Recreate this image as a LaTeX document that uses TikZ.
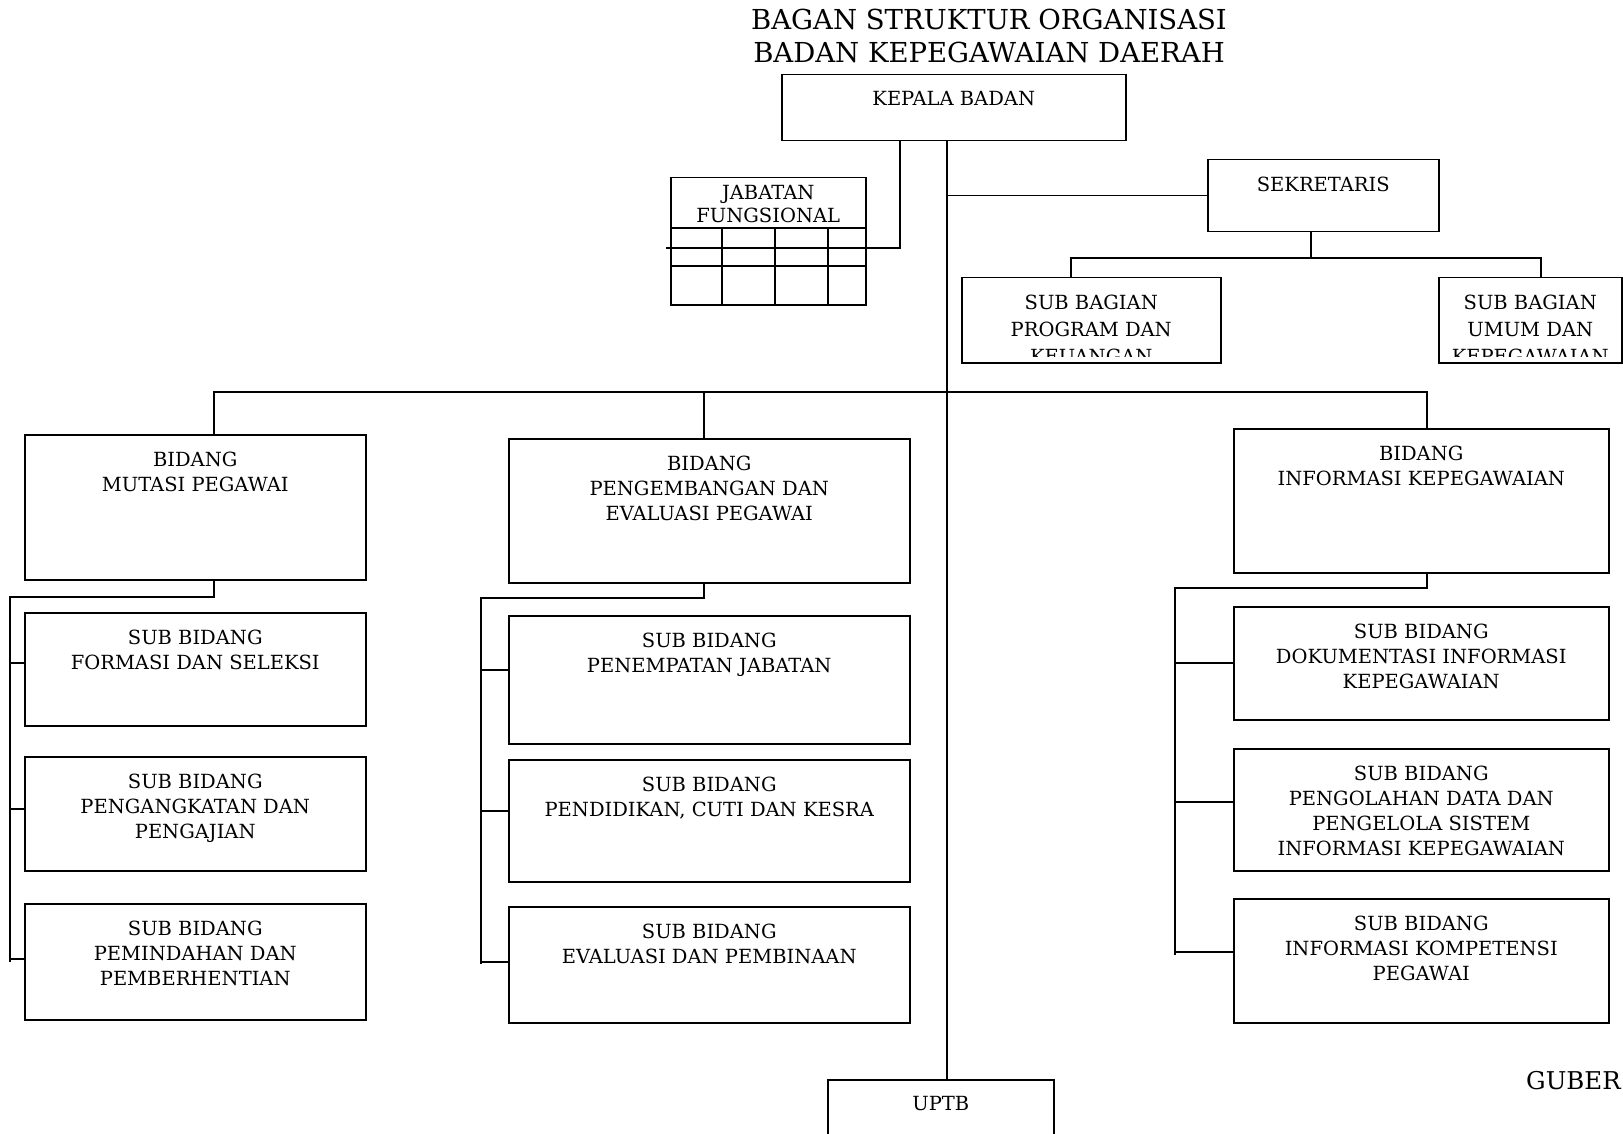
\documentclass[tikz,border=0pt]{standalone}
\usepackage{fontspec}
\setmainfont{DejaVu Serif}
\newcommand\orgboxfont{\fontsize{19.5}{25}\selectfont}
\newcommand\orgtitlefont{\fontsize{27.5}{33}\selectfont}
\tikzset{
  box/.style={draw, line width=1.5pt, rectangle, inner sep=0pt, anchor=north west},
  lbl/.style={anchor=north, inner sep=0pt, align=center, font=\orgboxfont, yshift=-17.5pt},
  conn/.style={line width=1.4pt},
  ttlstyle/.style={anchor=north, inner sep=0pt, align=center, font=\orgtitlefont},
}
\newcommand\orgbox[6]{\node[box, minimum width={(#4-#2)*1pt}, minimum height={(#5-#3)*1pt}, label={[lbl]north:{#6}}] (#1) at (#2,#3) {};}
\begin{document}
\begin{tikzpicture}[x=1pt,y=-1pt]
\useasboundingbox (0,0) rectangle (1623,1134);
\clip (0,0) rectangle (1623,1134);
\fill[white] (0,0) rectangle (1623,1134);
% title
\node[ttlstyle] (ttl) at (989,9) {BAGAN STRUKTUR ORGANISASI\\BADAN KEPEGAWAIAN DAERAH};
% boxes
\orgbox{kepala}{781}{74}{1125}{140}{KEPALA BADAN}
\orgbox{sek}{1207}{159}{1438}{231}{SEKRETARIS}
\orgbox{mut}{24}{434}{365}{579}{BIDANG\\MUTASI PEGAWAI}
\orgbox{pev}{508}{438}{909}{582}{BIDANG\\PENGEMBANGAN DAN\\EVALUASI PEGAWAI}
\orgbox{inf}{1233}{428}{1608}{572}{BIDANG\\INFORMASI KEPEGAWAIAN}
\orgbox{m1}{24}{612}{365}{725}{SUB BIDANG\\FORMASI DAN SELEKSI}
\orgbox{m2}{24}{756}{365}{870}{SUB BIDANG\\PENGANGKATAN DAN\\PENGAJIAN}
\orgbox{m3}{24}{903}{365}{1019}{SUB BIDANG\\PEMINDAHAN DAN\\PEMBERHENTIAN}
\orgbox{p1}{508}{615}{909}{743}{SUB BIDANG\\PENEMPATAN JABATAN}
\orgbox{p2}{508}{759}{909}{881}{SUB BIDANG\\PENDIDIKAN, CUTI DAN KESRA}
\orgbox{p3}{508}{906}{909}{1022}{SUB BIDANG\\EVALUASI DAN PEMBINAAN}
\orgbox{i1}{1233}{606}{1608}{719}{SUB BIDANG\\DOKUMENTASI INFORMASI\\KEPEGAWAIAN}
\orgbox{i2}{1233}{748}{1608}{870}{SUB BIDANG\\PENGOLAHAN DATA DAN\\PENGELOLA SISTEM\\INFORMASI KEPEGAWAIAN}
\orgbox{i3}{1233}{898}{1608}{1022}{SUB BIDANG\\INFORMASI KOMPETENSI\\PEGAWAI}
\orgbox{uptb}{827}{1079}{1053}{1170}{UPTB}
% sub bagian boxes with clipped text
\node[box, minimum width=259pt, minimum height=85pt] (sbp) at (961,277) {};
\node[box, minimum width=183pt, minimum height=85pt] (sbu) at (1438,277) {};
\begin{scope}
  \clip ([yshift=7pt]sbp.south west) rectangle (sbp.north east);
  \node[lbl, font=\fontsize{19.5}{27}\selectfont] (sbptext) at (sbp.north) {SUB BAGIAN\\PROGRAM DAN\\KEUANGAN};
\end{scope}
\begin{scope}
  \clip ([yshift=7pt]sbu.south west) rectangle (sbu.north east);
  \node[lbl, font=\fontsize{19.5}{27}\selectfont] (sbutext) at (sbu.north) {SUB BAGIAN\\UMUM DAN\\KEPEGAWAIAN};
\end{scope}
% jabatan fungsional table
\node[box, minimum width=195pt, minimum height=127pt] (jf) at (670,177) {};
\node[lbl, yshift=9.5pt, font=\fontsize{19.5}{23}\selectfont] (jftext) at (jf.north) {JABATAN\\FUNGSIONAL};
\draw[conn] (670,228) -- (865,228);
\draw[conn] (670,266) -- (865,266);
\draw[conn] (722,228) -- (722,304);
\draw[conn] (775,228) -- (775,304);
\draw[conn] (828,228) -- (828,304);
% GUBER
\node[anchor=north west, inner sep=0pt, font=\fontsize{24.5}{28}\selectfont] (gub) at (1526,1071) {GUBER};
% coordinates
\coordinate (tk) at (947,392);
\coordinate (jfk) at (900,248);
\coordinate (jfend) at (666,248);
\coordinate (sekbus) at (1311,258);
\coordinate (sbpx) at (1071,258);
\coordinate (sbux) at (1541,258);
\coordinate (busL) at (214,392);
\coordinate (busM) at (704,392);
\coordinate (busR) at (1427,392);
\coordinate (mtop) at (10,597);
\coordinate (mend) at (10,962);
\coordinate (mb1) at (10,663);
\coordinate (mb2) at (10,809);
\coordinate (mb3) at (10,959);
\coordinate (ptop) at (481,598);
\coordinate (pend) at (481,964);
\coordinate (pb1) at (481,670);
\coordinate (pb2) at (481,811);
\coordinate (pb3) at (481,962);
\coordinate (itop) at (1175,588);
\coordinate (iend) at (1175,955);
\coordinate (ib1) at (1175,663);
\coordinate (ib2) at (1175,802);
\coordinate (ib3) at (1175,952);
% connectors
\draw[conn] (kepala.south -| tk) -- (uptb.north -| tk);
\draw[conn] (kepala.south -| jfk) -- (jfk) -- (jfend);
\draw[conn] (tk |- sek.west) -- (sek.west);
\draw[conn] (sek.south -| sekbus) -- (sekbus);
\draw[conn] (sbp.north -| sbpx) -- (sbpx) -- (sbux) -- (sbu.north -| sbux);
\draw[conn] (mut.north -| busL) -- (busL) -- (busR) -- (inf.north -| busR);
\draw[conn] (busM) -- (pev.north -| busM);
\draw[conn] (mut.south -| busL) |- (mtop) -- (mend);
\draw[conn] (mb1) -- (m1.west |- mb1);
\draw[conn] (mb2) -- (m2.west |- mb2);
\draw[conn] (mb3) -- (m3.west |- mb3);
\draw[conn] (pev.south -| busM) |- (ptop) -- (pend);
\draw[conn] (pb1) -- (p1.west |- pb1);
\draw[conn] (pb2) -- (p2.west |- pb2);
\draw[conn] (pb3) -- (p3.west |- pb3);
\draw[conn] (inf.south -| busR) |- (itop) -- (iend);
\draw[conn] (ib1) -- (i1.west |- ib1);
\draw[conn] (ib2) -- (i2.west |- ib2);
\draw[conn] (ib3) -- (i3.west |- ib3);
\end{tikzpicture}
\end{document}
